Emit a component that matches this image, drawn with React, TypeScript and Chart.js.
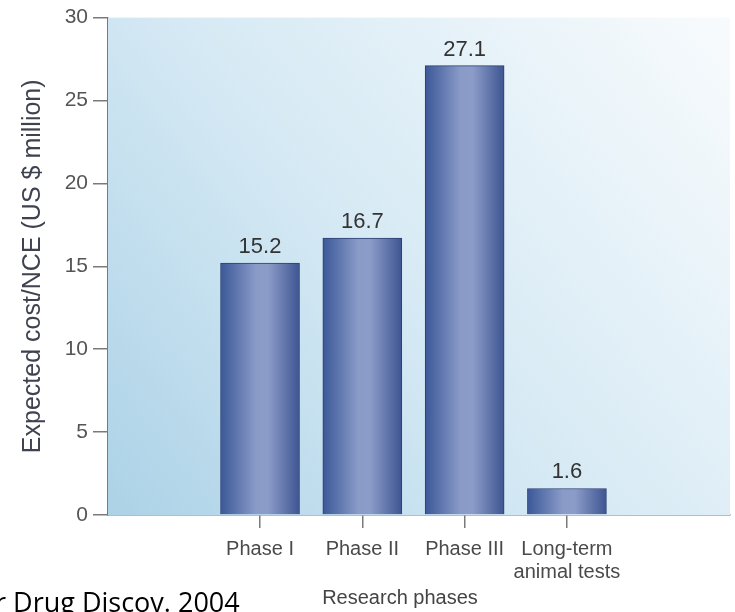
import React, { useEffect, useRef } from "react";
import { Chart, registerables } from "chart.js";

Chart.register(...registerables);

const categories: (string | string[])[] = ["Phase I", "Phase II", "Phase III", ["Long-term", "animal tests"]];
const positions = [1, 2, 3, 4];
const costs = [15.2, 16.7, 27.1, 1.6];
const valueLabels = ["15.2", "16.7", "27.1", "1.6"];
const yTicks = [0, 5, 10, 15, 20, 25, 30];
const yTitle = "Expected cost/NCE (US $ million)";
const xTitle = "Research phases";
const sourceText = "r Drug Discov. 2004";

const FONT = '"Liberation Sans", Arial, sans-serif';

const bgPlugin = {
  id: "bgPlugin",
  beforeDatasetsDraw(chart: any) {
    const { ctx, chartArea } = chart;
    if (!chartArea) return;
    const { left, right, top, bottom } = chartArea;
    const g = ctx.createLinearGradient(left, bottom, right, top);
    g.addColorStop(0, "#acd2e7");
    g.addColorStop(0.45, "#d5e9f4");
    g.addColorStop(1, "#f8fbfd");
    ctx.save();
    ctx.fillStyle = g;
    ctx.fillRect(left, top, right - left, bottom - top);
    ctx.restore();
  },
};

const labelPlugin = {
  id: "labelPlugin",
  afterDatasetsDraw(chart: any) {
    const { ctx } = chart;
    const meta = chart.getDatasetMeta(0);
    ctx.save();
    ctx.fillStyle = "#333333";
    ctx.font = `22px ${FONT}`;
    ctx.textAlign = "center";
    ctx.textBaseline = "alphabetic";
    meta.data.forEach((el: any, i: number) => {
      ctx.fillText(valueLabels[i], el.x, el.y - 10);
    });
    ctx.restore();
  },
  afterDraw(chart: any) {
    const { ctx } = chart;
    ctx.save();
    ctx.fillStyle = "#444444";
    ctx.font = `20px ${FONT}`;
    ctx.textAlign = "center";
    ctx.textBaseline = "middle";
    ctx.fillText(xTitle, 400, 598);
    ctx.fillStyle = "#000000";
    ctx.font = `27px "Open Sans", sans-serif`;
    ctx.textAlign = "left";
    ctx.textBaseline = "alphabetic";
    ctx.fillText(sourceText, -5, 612);
    ctx.restore();
  },
};

export default function App() {
  const ref = useRef<HTMLCanvasElement>(null);
  useEffect(() => {
    if (!ref.current) return;
    const barW = 79;
    const chart = new Chart(ref.current, {
      type: "bar",
      data: {
        datasets: [
          {
            data: positions.map((p, i) => ({ x: p, y: costs[i] })),
            barThickness: barW,
            borderWidth: 1,
            borderColor: "#2c3f72",
            backgroundColor: (c: any) => {
              const ch = c.chart;
              const xs = ch.scales && ch.scales.x;
              if (!xs || c.dataIndex == null || !c.parsed) return "#5a70aa";
              const px = xs.getPixelForValue(c.parsed.x);
              if (!isFinite(px)) return "#5a70aa";
              const g = ch.ctx.createLinearGradient(px - barW / 2, 0, px + barW / 2, 0);
              g.addColorStop(0, "#3b5898");
              g.addColorStop(0.45, "#8a9bc8");
              g.addColorStop(0.6, "#8c9cc9");
              g.addColorStop(1, "#3e5592");
              return g;
            },
          } as any,
        ],
      },
      options: {
        animation: false,
        responsive: false,
        layout: { padding: { left: 0, right: 5, top: 14, bottom: 0 } },
        plugins: { legend: { display: false }, tooltip: { enabled: false } },
        scales: {
          x: {
            type: "linear",
            offset: false,
            min: -0.486,
            max: 5.594,
            afterBuildTicks: (scale: any) => {
              scale.ticks = positions.map((v) => ({ value: v }));
            },
            afterFit: (scale: any) => {
              scale.height = 97;
            },
            ticks: {
              autoSkip: false,
              maxRotation: 0,
              padding: 10,
              color: "#4a4a4a",
              font: { family: FONT, size: 20, lineHeight: 1.15 },
              callback: (v: any) => {
                const i = positions.indexOf(Number(v));
                return i >= 0 ? categories[i] : "";
              },
            },
            grid: { offset: false, drawOnChartArea: false, tickLength: 13, color: "#7a7a7a", lineWidth: 1.5 },
            border: { color: "#7a7a7a", width: 1.5 },
          },
          y: {
            min: 0,
            max: 30,
            afterBuildTicks: (scale: any) => {
              scale.ticks = yTicks.map((v) => ({ value: v }));
            },
            afterFit: (scale: any) => {
              scale.width = 108;
            },
            ticks: {
              padding: 5,
              color: "#555555",
              font: { family: FONT, size: 21 },
            },
            grid: { drawOnChartArea: false, tickLength: 15, color: "#7a7a7a", lineWidth: 1.5 },
            border: { color: "#7a7a7a", width: 1.5 },
            title: {
              display: true,
              text: yTitle,
              color: "#3f4250",
              font: { family: FONT, size: 25 },
              padding: { top: 18, bottom: 0 },
            },
          },
        },
      },
      plugins: [bgPlugin, labelPlugin],
    } as any);
    return () => chart.destroy();
  }, []);
  return (
    <div style={{ position: "fixed", left: 0, top: 0, width: 735, height: 612, background: "#ffffff" }}>
      <canvas ref={ref} width={735} height={612} style={{ display: "block" }} />
    </div>
  );
}
